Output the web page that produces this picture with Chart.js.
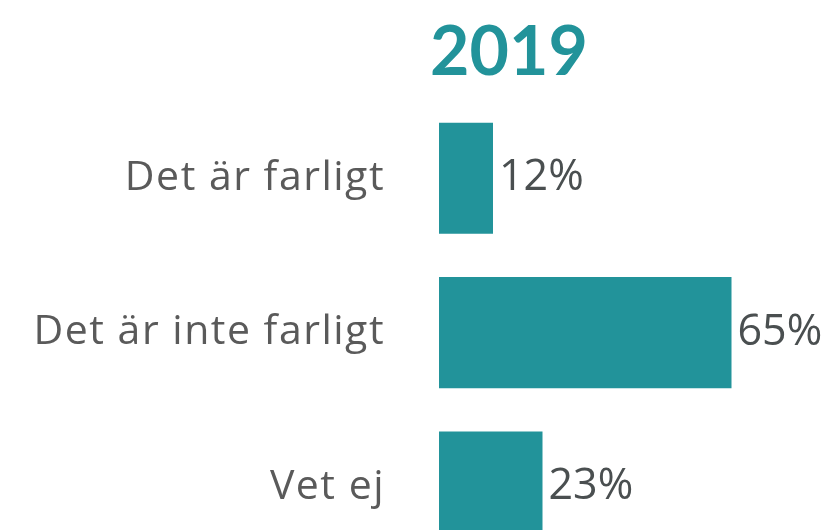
<!DOCTYPE html>
<html>
<head>
<meta charset="utf-8">
<script src="https://cdn.jsdelivr.net/npm/chart.js@4/dist/chart.umd.min.js"></script>
<style>
  html, body { margin: 0; padding: 0; background: #fff; overflow: hidden; }
  canvas { display: block; }
</style>
</head>
<body>
<canvas id="myChart" width="835" height="643"></canvas>
<script>
var year = "2019";
var categories = ["Det är farligt", "Det är inte farligt", "Vet ej"];
var values = [12, 65, 23];
var barColor = "#22939a";

// wider spacing for the category names, then the title and percent labels
var textPlugin = {
  id: "barText",
  beforeDraw: function (chart) {
    chart.ctx.letterSpacing = "1.5px";
  },
  beforeDatasetsDraw: function (chart) {
    chart.ctx.letterSpacing = "0px";
  },
  afterDatasetsDraw: function (chart) {
    var ctx = chart.ctx;
    ctx.save();
    ctx.fillStyle = barColor;
    ctx.font = "bold 68px Lato";
    ctx.textAlign = "center";
    ctx.textBaseline = "alphabetic";
    ctx.fillText(year, 509, 75);

    ctx.fillStyle = "#4a4f50";
    ctx.font = "43px 'Open Sans'";
    ctx.textAlign = "left";
    ctx.textBaseline = "middle";
    var meta = chart.getDatasetMeta(0);
    meta.data.forEach(function (bar, i) {
      ctx.fillText(values[i] + "%", bar.x + 6, bar.y);
    });
    ctx.restore();
  }
};

new Chart("myChart", {
  type: "bar",
  data: {
    labels: categories,
    datasets: [
      {
        data: values,
        backgroundColor: barColor,
        categoryPercentage: 1,
        barPercentage: 0.72
      }
    ]
  },
  options: {
    indexAxis: "y",
    responsive: false,
    animation: false,
    layout: { padding: { top: 101, right: 0, bottom: 2, left: 0 } },
    plugins: {
      legend: { display: false },
      tooltip: { enabled: false }
    },
    scales: {
      x: {
        display: false,
        min: 0,
        max: 88
      },
      y: {
        afterFit: function (scale) { scale.width = 439; },
        grid: { display: false, drawTicks: false },
        border: { display: false },
        ticks: {
          padding: 54,
          color: "#5a5a5a",
          font: { family: "'Open Sans'", size: 41 }
        }
      }
    }
  },
  plugins: [textPlugin]
});
</script>
</body>
</html>
